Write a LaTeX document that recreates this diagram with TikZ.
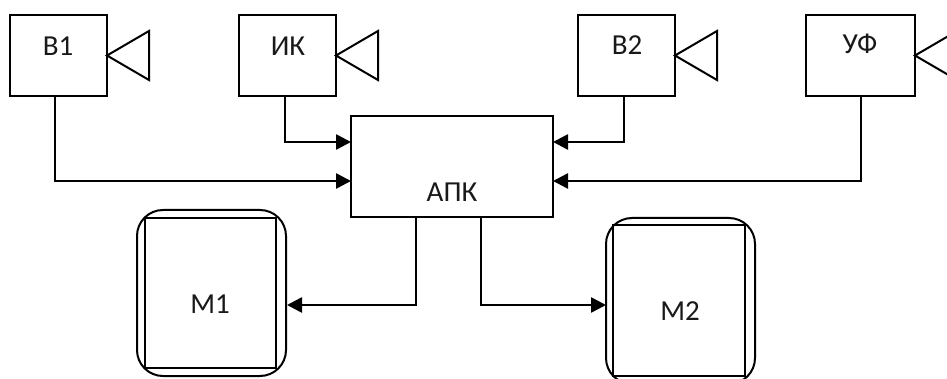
\documentclass[tikz,border=0pt]{standalone}
\usepackage{fontspec}
\setmainfont{Carlito}
\usetikzlibrary{arrows.meta}
\tikzset{
  x=1pt,y=-1pt,
  box/.style={draw=black,line width=2pt,inner sep=0pt,outer sep=0pt,anchor=north west},
  outerbox/.style={box,rounded corners=26pt},
  lbl/.style={inner sep=0pt,font=\fontsize{29}{33}\selectfont,text=black!90!white},
  sensor/.style={draw=black,line width=2pt,line join=miter},
  conn/.style={draw=black,line width=2.6pt,-{Triangle[length=15pt,width=15pt]}},
}
\begin{document}
\begin{tikzpicture}
\useasboundingbox (0,0) rectangle (947,379);
\clip (0,0) rectangle (947,379);
\fill[white] (0,0) rectangle (947,379);
% sensor boxes
\node[box,minimum width=97pt,minimum height=81pt] (b1) at (10,15) {};
\node[box,minimum width=97pt,minimum height=81pt] (ik) at (239,15) {};
\node[box,minimum width=97pt,minimum height=81pt] (b2) at (578,15) {};
\node[box,minimum width=109pt,minimum height=81pt] (uf) at (806,15) {};
\node[box,minimum width=202pt,minimum height=101pt] (apk) at (351,116) {};
% monitors
\node[outerbox,minimum width=149pt,minimum height=166pt] (m1o) at (137,210) {};
\node[box,minimum width=131pt,minimum height=150pt] (m1) at (145,218) {};
\node[outerbox,minimum width=149pt,minimum height=166pt] (m2o) at (606,218) {};
\node[box,minimum width=132pt,minimum height=151pt] (m2) at (613,225) {};
% labels
\node[lbl] (tb1) at (58,46) {В1};
\node[lbl] (tik) at (288,46) {ИК};
\node[lbl] (tb2) at (627,45) {В2};
\node[lbl] (tuf) at (860,44) {УФ};
\node[lbl] (tapk) at (452,192) {АПК};
\node[lbl] (tm1) at (210,304) {М1};
\node[lbl] (tm2) at (680,311) {М2};
% triangles
\draw[sensor] (b1.east) -- ++(42,-24.5) -- ++(0,49) -- cycle;
\draw[sensor] (ik.east) -- ++(42,-24.5) -- ++(0,49) -- cycle;
\draw[sensor] (b2.east) -- ++(42,-24.5) -- ++(0,49) -- cycle;
\draw[sensor] (uf.east) -- ++(42,-24.5) -- ++(0,49) -- cycle;
% connector end points
\coordinate (b1s) at (55,96);
\coordinate (iks) at (285,96);
\coordinate (b2s) at (624,96);
\coordinate (ufs) at (861,96);
\coordinate (aw1) at (351,142);
\coordinate (aw2) at (351,181);
\coordinate (ae1) at (553,142);
\coordinate (ae2) at (553,181);
\coordinate (as1) at (416,217);
\coordinate (as2) at (481,217);
\coordinate (m1e) at (287,305);
\coordinate (m2w) at (606,305);
% connectors
\draw[conn] (b1s) |- (aw2);
\draw[conn] (iks) |- (aw1);
\draw[conn] (b2s) |- (ae1);
\draw[conn] (ufs) |- (ae2);
\draw[conn] (as1) |- (m1e);
\draw[conn] (as2) |- (m2w);
\end{tikzpicture}
\end{document}
